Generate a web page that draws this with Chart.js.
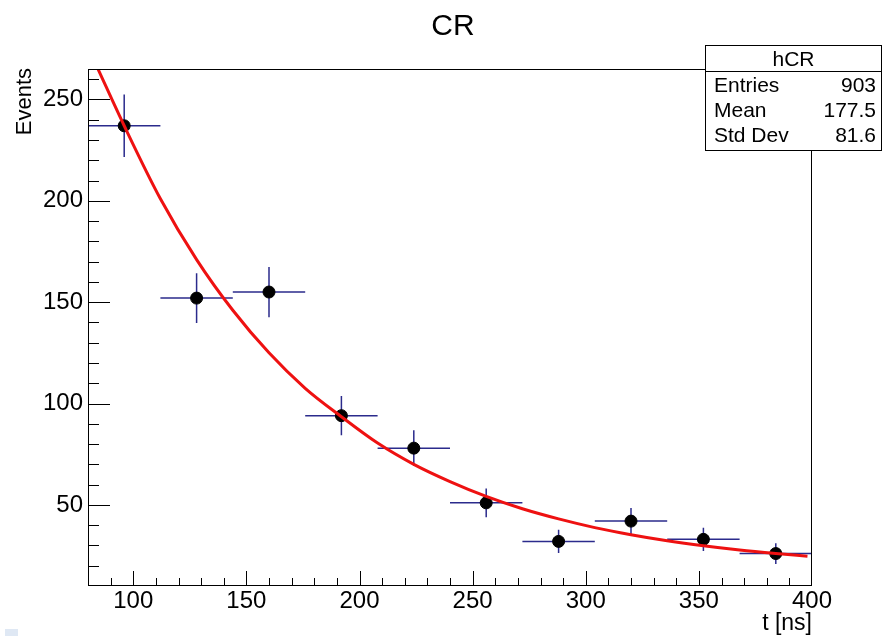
<!DOCTYPE html>
<html>
<head>
<meta charset="utf-8">
<title>CR</title>
<script src="https://cdn.jsdelivr.net/npm/chart.js@4.4.1/dist/chart.umd.min.js"></script>
<style>
    html, body { margin: 0; padding: 0; background: #ffffff; }
    #wrap { width: 883px; height: 636px; }
</style>
</head>
<body>
<div id="wrap"><canvas id="crChart" width="883" height="636"></canvas></div>
<script>
// ────────────────────────────────────────────────
// Data (read off the histogram hCR)
// ────────────────────────────────────────────────
const binCenters   = [96, 128, 160, 192, 224, 256, 288, 320, 352, 384];
const binCounts    = [237, 152, 155, 94, 78, 51, 32, 42, 33, 26];
const binHalfWidth = [16, 16, 16, 16, 16, 16, 16, 16, 16, 16];
const countErrors  = [15.4, 12.3, 12.4, 9.7, 8.8, 7.1, 5.7, 6.5, 5.7, 5.1];

// fitted exponential, sampled from the red curve
const fitT      = [84, 96, 112, 128, 144, 160, 176, 192, 208, 224, 240, 256, 272, 288, 304, 320, 336, 352, 368, 384, 398];
const fitEvents = [266, 237, 201, 171, 146, 125, 107.5, 93.5, 80.5, 70, 61.5, 54.2, 48.1, 43.1, 38.8, 35.3, 32.3, 29.8, 27.7, 26, 24.7];

const xTickValues = [100, 150, 200, 250, 300, 350, 400];
const yTickValues = [50, 100, 150, 200, 250];

const statsTitle = 'hCR';
const statsLabels = ['Entries', 'Mean', 'Std Dev'];
const statsValues = ['903', '177.5', '81.6'];

const FONT = "'Liberation Sans', Arial, Helvetica, sans-serif";

// ────────────────────────────────────────────────
// ROOT-style decorations: frame, inner ticks, error bars, titles, stats box
// ────────────────────────────────────────────────
const errorBarPlugin = {
    id: 'errorBars',
    beforeDatasetsDraw(chart) {
        const { ctx, scales: { x, y }, chartArea } = chart;
        ctx.save();
        ctx.beginPath();
        ctx.rect(chartArea.left, chartArea.top, chartArea.right - chartArea.left, chartArea.bottom - chartArea.top);
        ctx.clip();
        ctx.strokeStyle = '#2b2b8c';
        ctx.lineWidth = 1.5;
        binCenters.forEach((t, i) => {
            const px = x.getPixelForValue(t);
            const py = y.getPixelForValue(binCounts[i]);
            ctx.beginPath();
            ctx.moveTo(x.getPixelForValue(t - binHalfWidth[i]), py);
            ctx.lineTo(x.getPixelForValue(t + binHalfWidth[i]), py);
            ctx.moveTo(px, y.getPixelForValue(binCounts[i] + countErrors[i]));
            ctx.lineTo(px, y.getPixelForValue(binCounts[i] - countErrors[i]));
            ctx.stroke();
        });
        ctx.restore();
    }
};

const framePlugin = {
    id: 'rootFrame',
    afterDraw(chart) {
        const { ctx, scales: { x, y }, chartArea: a } = chart;
        ctx.save();

        // frame
        ctx.strokeStyle = '#000000';
        ctx.lineWidth = 1;
        ctx.strokeRect(a.left + 0.5, a.top + 0.5, a.right - a.left - 1, a.bottom - a.top - 1);

        // inner ticks, every 10 units
        ctx.beginPath();
        for (let v = 20; v < y.max; v += 10) {
            const py = Math.round(y.getPixelForValue(v)) + 0.5;
            const len = v % 50 === 0 ? 22 : 11;
            ctx.moveTo(a.left, py);
            ctx.lineTo(a.left + len, py);
        }
        for (let v = 90; v < x.max; v += 10) {
            const px = Math.round(x.getPixelForValue(v)) + 0.5;
            const len = v % 50 === 0 ? 15 : 8;
            ctx.moveTo(px, a.bottom);
            ctx.lineTo(px, a.bottom - len);
        }
        ctx.stroke();

        // main title
        ctx.fillStyle = '#000000';
        ctx.font = `30px ${FONT}`;
        ctx.textAlign = 'center';
        ctx.textBaseline = 'alphabetic';
        ctx.fillText('CR', 453, 35);

        // x axis title, right aligned
        ctx.font = `23px ${FONT}`;
        ctx.textAlign = 'right';
        ctx.fillText('t [ns]', a.right, 630);

        // y axis title, rotated, at the top
        ctx.save();
        ctx.translate(31, a.top - 1);
        ctx.rotate(-Math.PI / 2);
        ctx.font = `22px ${FONT}`;
        ctx.textAlign = 'right';
        ctx.fillText('Events', 0, 0);
        ctx.restore();

        // stats box
        const bx = 705, by = 45, bw = 177, bh = 106;
        ctx.fillStyle = '#ffffff';
        ctx.fillRect(bx, by, bw, bh);
        ctx.strokeStyle = '#000000';
        ctx.strokeRect(bx + 0.5, by + 0.5, bw - 1, bh - 1);
        ctx.beginPath();
        ctx.moveTo(bx, 71.5);
        ctx.lineTo(bx + bw, 71.5);
        ctx.stroke();

        ctx.fillStyle = '#000000';
        ctx.font = `21px ${FONT}`;
        ctx.textAlign = 'center';
        ctx.fillText(statsTitle, bx + bw / 2, 66);
        statsLabels.forEach((label, i) => {
            const base = 92 + i * 25;
            ctx.textAlign = 'left';
            ctx.fillText(label, bx + 9, base);
            ctx.textAlign = 'right';
            ctx.fillText(statsValues[i], bx + bw - 6, base);
        });

        // little pale square in the lower left corner
        ctx.fillStyle = '#dfe8f4';
        ctx.fillRect(5, 629, 13, 7);

        ctx.restore();
    }
};

// ────────────────────────────────────────────────
// Chart
// ────────────────────────────────────────────────
const ctx = document.getElementById('crChart').getContext('2d');

new Chart(ctx, {
    type: 'scatter',
    data: {
        datasets: [
            {
                label: 'fit',
                type: 'line',
                data: fitT.map((t, i) => ({ x: t, y: fitEvents[i] })),
                borderColor: '#ee1111',
                borderWidth: 3,
                pointRadius: 0,
                cubicInterpolationMode: 'monotone',
                fill: false,
                order: 0
            },
            {
                label: 'hCR',
                data: binCenters.map((t, i) => ({ x: t, y: binCounts[i] })),
                backgroundColor: '#000000',
                borderColor: '#000000',
                pointRadius: 6,
                order: 1
            }
        ]
    },
    options: {
        responsive: false,
        animation: false,
        devicePixelRatio: 1,
        layout: { padding: { top: 69, right: 71, left: 0, bottom: 0 } },
        plugins: {
            legend: { display: false },
            tooltip: { enabled: false },
            title: { display: false }
        },
        scales: {
            x: {
                type: 'linear',
                min: 80,
                max: 400,
                afterBuildTicks: scale => { scale.ticks = xTickValues.map(v => ({ value: v })); },
                afterFit: scale => { scale.height = 50; },
                grid: { display: false, drawTicks: false },
                border: { display: false },
                ticks: {
                    color: '#000000',
                    padding: 1,
                    maxRotation: 0,
                    autoSkip: false,
                    font: { family: FONT, size: 24 }
                }
            },
            y: {
                type: 'linear',
                min: 10,
                max: 265,
                afterBuildTicks: scale => { scale.ticks = yTickValues.map(v => ({ value: v })); },
                afterFit: scale => { scale.width = 88; },
                grid: { display: false, drawTicks: false },
                border: { display: false },
                ticks: {
                    color: '#000000',
                    padding: 5,
                    autoSkip: false,
                    font: { family: FONT, size: 24 }
                }
            }
        }
    },
    plugins: [errorBarPlugin, framePlugin]
});
</script>
</body>
</html>
